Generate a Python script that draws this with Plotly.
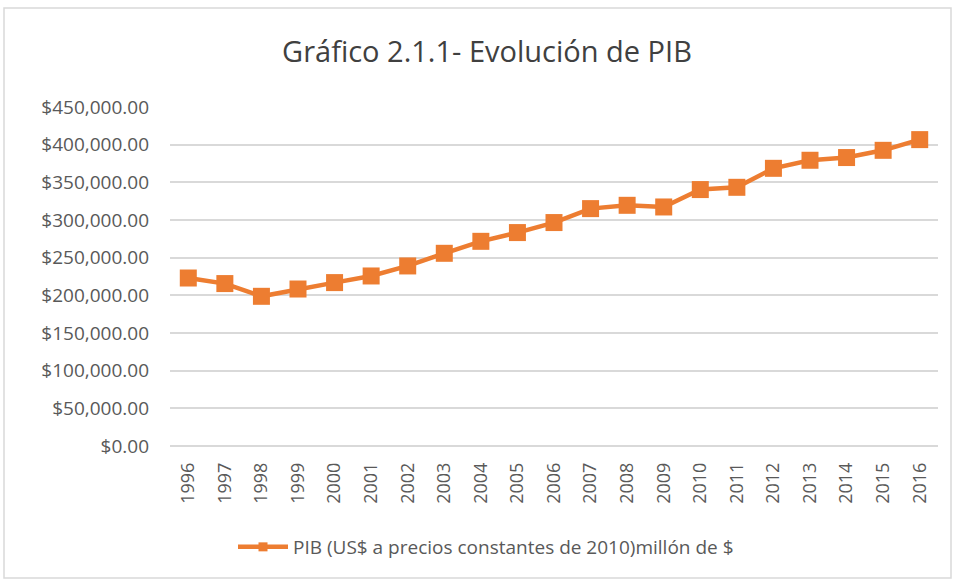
import plotly.graph_objects as go

years = [str(y) for y in range(1996, 2017)]
pib = [223000, 215600, 198700, 208400, 216900, 225700, 239000, 255800, 271700,
       283300, 296600, 315100, 319500, 317300, 340400, 343400, 368600, 379300,
       382900, 392500, 406700]
y_ticks = [0, 50000, 100000, 150000, 200000, 250000, 300000, 350000, 400000, 450000]
y_tick_labels = ["$%s" % format(v, ",.2f") for v in y_ticks]
series_name = "PIB (US$ a precios constantes de 2010)millón de $"
title_text = "Gráfico 2.1.1- Evolución de PIB"

W, H = 955, 582
ml, mr, mt, mb = 170, 17, 107, 136
ORANGE = "#ED7D31"

fig = go.Figure()
fig.add_trace(go.Scatter(
    x=years, y=pib, mode="lines+markers", name=series_name, showlegend=False,
    line=dict(color=ORANGE, width=4.5),
    marker=dict(symbol="square", size=17, color=ORANGE),
))
# legend entry (smaller marker, as in the original legend swatch)
fig.add_trace(go.Scatter(
    x=[None], y=[None], mode="lines+markers", name=series_name, showlegend=True,
    line=dict(color=ORANGE, width=4.5),
    marker=dict(symbol="square", size=9, color=ORANGE),
))

pw = W - ml - mr
ph = H - mt - mb
def px_x(x):
    return (x - ml) / pw
def px_y(y):
    return (H - mb - y) / ph

fig.update_layout(
    width=W, height=H,
    margin=dict(l=ml, r=mr, t=mt, b=mb),
    paper_bgcolor="white", plot_bgcolor="white",
    title=dict(text=title_text, x=487 / W, xanchor="center", y=1 - 52 / H, yanchor="middle",
               font=dict(family="Open Sans", size=29, color="#404040")),
    font=dict(family="Open Sans", color="#595959"),
    showlegend=True,
    legend=dict(orientation="h", x=px_x(486), xanchor="center", y=px_y(547), yanchor="middle",
                font=dict(size=19, color="#595959"), bgcolor="rgba(0,0,0,0)",
                itemwidth=50),
    xaxis=dict(type="category", range=[-0.5, 20.5], tickangle=-90, showgrid=False,
               showline=False, ticks="", ticklabelstandoff=12,
               tickfont=dict(size=18, color="#595959")),
    yaxis=dict(range=[0, 450000], tickvals=y_ticks, ticktext=y_tick_labels,
               showgrid=True, gridcolor="#D9D9D9", gridwidth=1.5, zeroline=True,
               zerolinecolor="#D9D9D9", zerolinewidth=1.5, ticks="",
               ticklabelstandoff=20,
               tickfont=dict(size=19, color="#595959")),
    shapes=[dict(type="rect", xref="paper", yref="paper",
                 x0=px_x(4), x1=px_x(951), y0=px_y(578), y1=px_y(8),
                 line=dict(color="#D9D9D9", width=1.5), fillcolor="rgba(0,0,0,0)")],
)

fig.write_html("out.html", config={"displayModeBar": False},
               post_script="document.body.style.margin='0';")
